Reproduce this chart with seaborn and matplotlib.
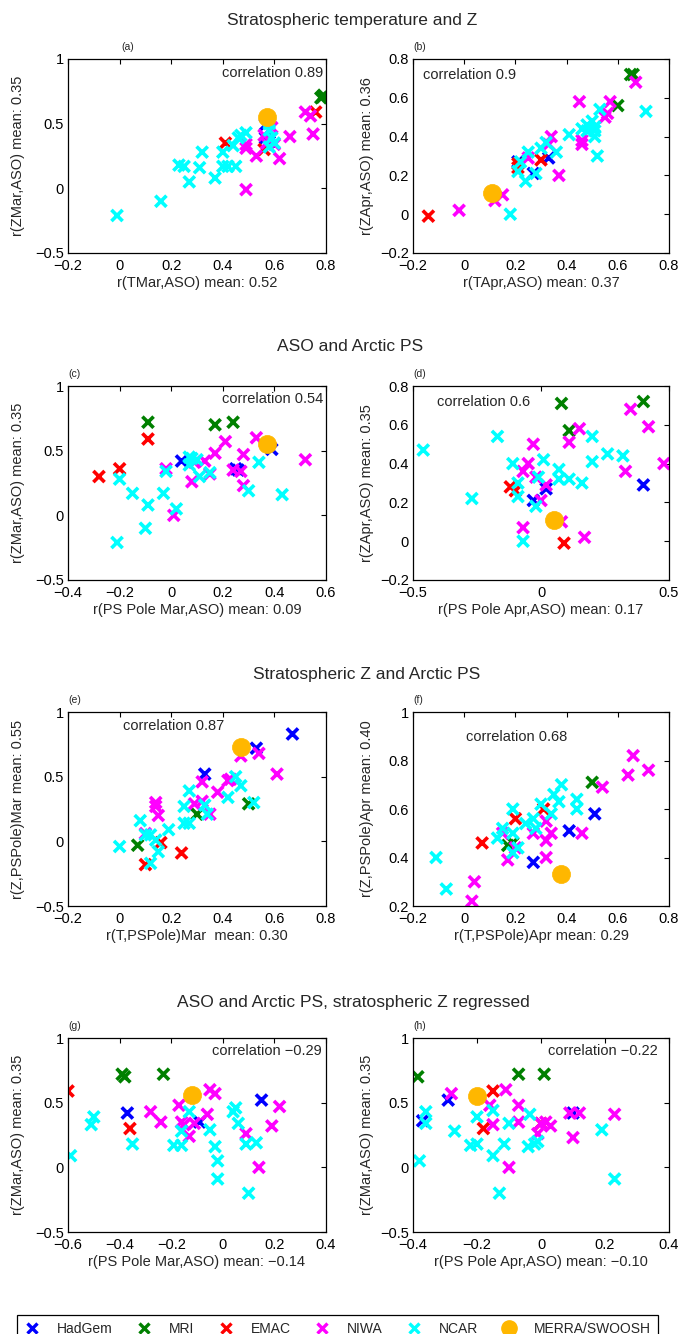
import numpy as np
import pandas as pd
import seaborn as sns
import matplotlib
matplotlib.use("Agg")
from matplotlib import pyplot as plt
from matplotlib.lines import Line2D

MODELS = ["HadGem", "MRI", "EMAC", "NIWA", "NCAR"]
OBS = "MERRA/SWOOSH"
COLORS = {"HadGem": "#0000ff", "MRI": "#008000", "EMAC": "#ff0000",
          "NIWA": "#ff00ff", "NCAR": "#00ffff"}
OBS_COLOR = "#ffb700"

# points, (x, y) per model member
PANEL_A = {
    "HadGem": [(0.565, 0.49), (0.565, 0.39), (0.58, 0.36)],
    "MRI": [(0.78, 0.70), (0.79, 0.72), (0.785, 0.705)],
    "EMAC": [(0.76, 0.59), (0.41, 0.35), (0.56, 0.30)],
    "NIWA": [(0.72, 0.59), (0.74, 0.56), (0.75, 0.42), (0.66, 0.40), (0.62, 0.23), (0.60, 0.34),
             (0.59, 0.47), (0.56, 0.41), (0.53, 0.25), (0.49, 0.34), (0.49, 0.31), (0.49, -0.01),
             (0.57, 0.35)],
    "NCAR": [(-0.01, -0.21), (0.16, -0.10), (0.23, 0.18), (0.25, 0.17), (0.27, 0.05), (0.31, 0.16),
             (0.32, 0.28), (0.37, 0.08), (0.40, 0.28), (0.40, 0.17), (0.42, 0.17), (0.45, 0.17),
             (0.44, 0.33), (0.47, 0.41), (0.46, 0.39), (0.49, 0.43), (0.58, 0.45), (0.59, 0.39),
             (0.58, 0.32), (0.60, 0.35), (0.58, 0.50)],
    OBS: [(0.57, 0.55)],
}
PANEL_B = {
    "HadGem": [(0.21, 0.27), (0.27, 0.21), (0.33, 0.29)],
    "MRI": [(0.65, 0.72), (0.66, 0.72), (0.60, 0.56)],
    "EMAC": [(-0.14, -0.01), (0.21, 0.26), (0.21, 0.24), (0.30, 0.28)],
    "NIWA": [(-0.02, 0.02), (0.12, 0.07), (0.15, 0.10), (0.37, 0.20), (0.34, 0.40), (0.33, 0.36),
             (0.45, 0.58), (0.46, 0.36), (0.46, 0.38), (0.55, 0.50), (0.56, 0.52), (0.57, 0.58),
             (0.67, 0.68), (0.25, 0.29)],
    "NCAR": [(0.18, 0.00), (0.21, 0.22), (0.24, 0.17), (0.25, 0.32), (0.28, 0.21), (0.30, 0.34),
             (0.32, 0.37), (0.36, 0.32), (0.41, 0.41), (0.46, 0.44), (0.48, 0.46), (0.51, 0.45),
             (0.51, 0.40), (0.52, 0.30), (0.53, 0.54), (0.71, 0.53), (0.48, 0.43), (0.51, 0.43),
             (0.50, 0.48), (0.22, 0.27)],
    OBS: [(0.11, 0.11)],
}
PANEL_C = {
    "HadGem": [(0.04, 0.42), (0.25, 0.36), (0.39, 0.51), (0.26, 0.35)],
    "MRI": [(-0.09, 0.72), (0.17, 0.70), (0.24, 0.72)],
    "EMAC": [(-0.28, 0.30), (-0.20, 0.36), (-0.09, 0.59)],
    "NIWA": [(-0.02, 0.36), (0.01, 0.00), (0.08, 0.26), (0.09, 0.41), (0.13, 0.42), (0.15, 0.32),
             (0.17, 0.48), (0.21, 0.57), (0.28, 0.47), (0.27, 0.34), (0.28, 0.23), (0.33, 0.60),
             (0.52, 0.43), (0.24, 0.35)],
    "NCAR": [(-0.21, -0.21), (-0.20, 0.28), (-0.15, 0.17), (-0.09, 0.08), (-0.10, -0.10), (-0.03, 0.17),
             (-0.02, 0.34), (0.02, 0.05), (0.07, 0.39), (0.08, 0.44), (0.10, 0.43), (0.11, 0.30),
             (0.15, 0.33), (0.30, 0.19), (0.34, 0.41), (0.43, 0.16), (0.07, 0.45)],
    OBS: [(0.37, 0.555)],
}
PANEL_D = {
    "HadGem": [(-0.03, 0.21), (0.02, 0.27), (0.40, 0.29)],
    "MRI": [(0.08, 0.71), (0.11, 0.57), (0.40, 0.72)],
    "EMAC": [(-0.12, 0.28), (-0.10, 0.26), (0.09, -0.01)],
    "NIWA": [(-0.07, 0.07), (-0.03, 0.50), (-0.05, 0.40), (-0.07, 0.36), (-0.02, 0.33), (0.02, 0.29),
             (0.00, 0.21), (0.08, 0.10), (0.15, 0.58), (0.11, 0.51), (0.17, 0.02), (0.35, 0.68),
             (0.42, 0.59), (0.33, 0.36), (0.48, 0.40)],
    "NCAR": [(-0.46, 0.47), (-0.27, 0.22), (-0.17, 0.54), (-0.11, 0.40), (-0.09, 0.30), (-0.09, 0.23),
             (-0.07, 0.00), (-0.02, 0.18), (-0.01, 0.33), (0.01, 0.42), (0.07, 0.37), (0.07, 0.32),
             (0.11, 0.32), (0.16, 0.30), (0.20, 0.41), (0.20, 0.54), (0.26, 0.45), (0.32, 0.44)],
    OBS: [(0.05, 0.11)],
}
PANEL_E = {
    "HadGem": [(0.67, 0.83), (0.53, 0.72), (0.33, 0.52)],
    "MRI": [(0.07, -0.03), (0.30, 0.21), (0.50, 0.29)],
    "EMAC": [(0.10, -0.18), (0.16, -0.01), (0.24, -0.09)],
    "NIWA": [(0.47, 0.66), (0.54, 0.68), (0.61, 0.52), (0.42, 0.47), (0.38, 0.38), (0.32, 0.46),
             (0.32, 0.31), (0.29, 0.29), (0.35, 0.21), (0.14, 0.30), (0.14, 0.27), (0.15, 0.20),
             (0.10, 0.06), (0.43, 0.48)],
    "NCAR": [(0.00, -0.04), (0.08, 0.16), (0.10, 0.05), (0.12, 0.05), (0.12, -0.17), (0.14, 0.01),
             (0.15, -0.08), (0.19, 0.09), (0.25, 0.27), (0.25, 0.14), (0.27, 0.39), (0.27, 0.14),
             (0.33, 0.28), (0.34, 0.21), (0.42, 0.34), (0.45, 0.50), (0.47, 0.43), (0.52, 0.30)],
    OBS: [(0.47, 0.73)],
}
PANEL_F = {
    "HadGem": [(0.27, 0.38), (0.41, 0.51), (0.51, 0.58)],
    "MRI": [(0.50, 0.71), (0.17, 0.45), (0.19, 0.46)],
    "EMAC": [(0.07, 0.46), (0.20, 0.56), (0.31, 0.60)],
    "NIWA": [(0.66, 0.82), (0.72, 0.76), (0.64, 0.74), (0.54, 0.69), (0.46, 0.50), (0.34, 0.50),
             (0.32, 0.47), (0.32, 0.40), (0.32, 0.55), (0.27, 0.50), (0.17, 0.39), (0.15, 0.50),
             (0.04, 0.30), (0.03, 0.22), (0.20, 0.44)],
    "NCAR": [(-0.11, 0.40), (-0.07, 0.27), (0.13, 0.48), (0.15, 0.52), (0.19, 0.60), (0.19, 0.50),
             (0.19, 0.42), (0.21, 0.44), (0.24, 0.54), (0.27, 0.56), (0.28, 0.52), (0.30, 0.62),
             (0.34, 0.58), (0.35, 0.66), (0.37, 0.63), (0.38, 0.70), (0.44, 0.64), (0.44, 0.60)],
    OBS: [(0.38, 0.33)],
}
PANEL_G = {
    "HadGem": [(-0.37, 0.42), (-0.09, 0.35), (0.15, 0.52)],
    "MRI": [(-0.39, 0.72), (-0.38, 0.70), (-0.23, 0.72)],
    "EMAC": [(-0.60, 0.59), (-0.36, 0.30)],
    "NIWA": [(-0.28, 0.43), (-0.24, 0.35), (-0.17, 0.48), (-0.16, 0.35), (-0.15, 0.33), (-0.13, 0.24),
             (-0.11, 0.34), (-0.06, 0.41), (-0.05, 0.60), (-0.03, 0.57), (0.09, 0.26), (0.19, 0.32),
             (0.22, 0.47), (0.14, 0.00)],
    "NCAR": [(-0.59, 0.09), (-0.51, 0.33), (-0.50, 0.39), (-0.35, 0.18), (-0.19, 0.17), (-0.16, 0.17),
             (-0.16, 0.28), (-0.13, 0.43), (-0.05, 0.29), (-0.03, 0.16), (-0.02, 0.05), (-0.02, -0.09),
             (0.04, 0.43), (0.05, 0.46), (0.06, 0.34), (0.09, 0.18), (0.13, 0.19), (0.10, -0.20)],
    OBS: [(-0.12, 0.56)],
}
PANEL_H = {
    "HadGem": [(-0.29, 0.52), (-0.37, 0.36), (0.10, 0.42)],
    "MRI": [(-0.385, 0.70), (-0.07, 0.72), (0.01, 0.72)],
    "EMAC": [(-0.15, 0.59), (-0.18, 0.30), (0.00, 0.34)],
    "NIWA": [(-0.28, 0.57), (-0.16, 0.48), (-0.15, 0.33), (-0.11, 0.60), (-0.07, 0.48), (-0.07, 0.35),
             (-0.10, 0.00), (-0.01, 0.26), (0.00, 0.34), (0.015, 0.35), (0.03, 0.32), (0.09, 0.42),
             (0.12, 0.42), (0.10, 0.23), (0.23, 0.41)],
    "NCAR": [(-0.38, 0.05), (-0.36, 0.43), (-0.36, 0.34), (-0.27, 0.28), (-0.22, 0.17), (-0.20, 0.18),
             (-0.20, 0.39), (-0.15, 0.09), (-0.15, 0.44), (-0.13, -0.20), (-0.115, 0.18), (-0.10, 0.34),
             (-0.04, 0.16), (-0.035, 0.41), (-0.02, 0.18), (-0.01, 0.20), (0.19, 0.29), (0.23, -0.09)],
    OBS: [(-0.20, 0.555)],
}

PANELS = [PANEL_A, PANEL_B, PANEL_C, PANEL_D, PANEL_E, PANEL_F, PANEL_G, PANEL_H]
LETTERS = ["(a)", "(b)", "(c)", "(d)", "(e)", "(f)", "(g)", "(h)"]
X_LABELS = ["r(TMar,ASO) mean: 0.52", "r(TApr,ASO) mean: 0.37",
            "r(PS Pole Mar,ASO) mean: 0.09", "r(PS Pole Apr,ASO) mean: 0.17",
            "r(T,PSPole)Mar  mean: 0.30", "r(T,PSPole)Apr mean: 0.29",
            "r(PS Pole Mar,ASO) mean: \u22120.14", "r(PS Pole Apr,ASO) mean: \u22120.10"]
Y_LABELS = ["r(ZMar,ASO) mean: 0.35", "r(ZApr,ASO) mean: 0.36",
            "r(ZMar,ASO) mean: 0.35", "r(ZApr,ASO) mean: 0.35",
            "r(Z,PSPole)Mar mean: 0.55", "r(Z,PSPole)Apr mean: 0.40",
            "r(ZMar,ASO) mean: 0.35", "r(ZMar,ASO) mean: 0.35"]
CORR_TEXT = ["correlation 0.89", "correlation 0.9", "correlation 0.54", "correlation 0.6",
             "correlation 0.87", "correlation 0.68", "correlation \u22120.29", "correlation \u22120.22"]
X_TICKS = [[-0.2, 0, 0.2, 0.4, 0.6, 0.8], [-0.2, 0, 0.2, 0.4, 0.6, 0.8],
           [-0.4, -0.2, 0, 0.2, 0.4, 0.6], [-0.5, 0, 0.5],
           [-0.2, 0, 0.2, 0.4, 0.6, 0.8], [-0.2, 0, 0.2, 0.4, 0.6, 0.8],
           [-0.6, -0.4, -0.2, 0, 0.2, 0.4], [-0.4, -0.2, 0, 0.2, 0.4]]
Y_TICKS = [[-0.5, 0, 0.5, 1], [-0.2, 0, 0.2, 0.4, 0.6, 0.8],
           [-0.5, 0, 0.5, 1], [-0.2, 0, 0.2, 0.4, 0.6, 0.8],
           [-0.5, 0, 0.5, 1], [0.2, 0.4, 0.6, 0.8, 1],
           [-0.5, 0, 0.5, 1], [-0.5, 0, 0.5, 1]]
ROW_TITLES = ["Stratospheric temperature and Z", "ASO and Arctic PS",
              "Stratospheric Z and Arctic PS", "ASO and Arctic PS, stratospheric Z regressed"]

# layout in pixels of the 681x1334 canvas
W, H = 681, 1334
COL_LEFT = [68, 413]
COL_WIDTH = [258, 256]
ROW_TOP = [59, 386, 712, 1038]
AX_H = 194
TITLE_XY = [(352, 21), (350, 347), (367, 674), (353, 1002)]
# (x in axes fraction, alignment, y in axes fraction)
CORR_POS = [(0.99, "right", 0.928), (0.04, "left", 0.918), (0.99, "right", 0.933), (0.094, "left", 0.918),
            (0.213, "left", 0.928), (0.207, "left", 0.871), (0.984, "right", 0.933), (0.957, "right", 0.933)]
LETTER_X = [0.205, 0.0, 0.0, 0.0, 0.0, 0.0, 0.0, 0.0]
YLABEL_X = [-0.167, -0.152]


def fmt(v):
    return f"{v:g}".replace("-", "\u2212")


def panel_frame(panel):
    rows = []
    for name in MODELS + [OBS]:
        for x, y in panel[name]:
            rows.append({"x": x, "y": y, "model": name})
    return pd.DataFrame(rows)


sns.set_style("white")
plt.rcParams["font.family"] = ["Liberation Sans", "DejaVu Sans"]
plt.rcParams["axes.unicode_minus"] = True

fig = plt.figure(figsize=(W / 100, H / 100), dpi=100)

for i, panel in enumerate(PANELS):
    row, col = divmod(i, 2)
    left = COL_LEFT[col] / W
    bottom = 1 - (ROW_TOP[row] + AX_H) / H
    ax = fig.add_axes([left, bottom, COL_WIDTH[col] / W, AX_H / H])

    df = panel_frame(panel)
    models = df[df["model"] != OBS]
    obs = df[df["model"] == OBS]
    sns.scatterplot(data=models, x="x", y="y", hue="model", hue_order=MODELS, palette=COLORS,
                    marker="x", s=65, linewidth=2.6, legend=False, ax=ax)
    sns.scatterplot(data=obs, x="x", y="y", color=OBS_COLOR, marker="o", s=170,
                    edgecolor=OBS_COLOR, linewidth=0.5, legend=False, ax=ax, zorder=5)

    xt, yt = X_TICKS[i], Y_TICKS[i]
    ax.set_xlim(xt[0], xt[-1])
    ax.set_ylim(yt[0], yt[-1])
    ax.set_xticks(xt)
    ax.set_xticklabels([fmt(v) for v in xt])
    ax.set_yticks(yt)
    ax.set_yticklabels([fmt(v) for v in yt])
    ax.tick_params(direction="in", top=True, right=True, length=3.5, width=0.8,
                   labelsize=10.5, colors="black")
    ax.tick_params(axis="x", pad=4.5)
    ax.tick_params(axis="y", pad=3)
    for sp in ax.spines.values():
        sp.set_color("black")
        sp.set_linewidth(0.9)

    ax.set_xlabel(X_LABELS[i], fontsize=10.5, labelpad=2)
    ax.set_ylabel(Y_LABELS[i], fontsize=10.5)
    ax.yaxis.set_label_coords(YLABEL_X[col], 0.5)

    cx, ha, cy = CORR_POS[i]
    ax.text(cx, cy, CORR_TEXT[i], transform=ax.transAxes, ha=ha, va="center", fontsize=10.5)
    ax.text(LETTER_X[i], 1.062, LETTERS[i], transform=ax.transAxes, ha="left", va="center", fontsize=7.5)

for title, (tx, ty) in zip(ROW_TITLES, TITLE_XY):
    fig.text(tx / W, 1 - ty / H, title, ha="center", va="center", fontsize=12.5)

handles = [Line2D([], [], linestyle="none", marker="x", color=COLORS[m], markersize=7,
                  markeredgewidth=2.4) for m in MODELS]
handles.append(Line2D([], [], linestyle="none", marker="o", color=OBS_COLOR, markersize=11))
leg = fig.legend(handles, MODELS + [OBS], loc="upper left", ncol=6, mode="expand",
                 bbox_to_anchor=(17 / W, 0.0, 641 / W, 1 - 1315 / H), borderaxespad=0,
                 fontsize=10, frameon=True, fancybox=False, framealpha=1, edgecolor="black",
                 handlelength=1.2, handletextpad=1.2, borderpad=0.5)
leg.get_frame().set_linewidth(0.9)

fig.savefig("out.png", dpi=100, facecolor="white")
